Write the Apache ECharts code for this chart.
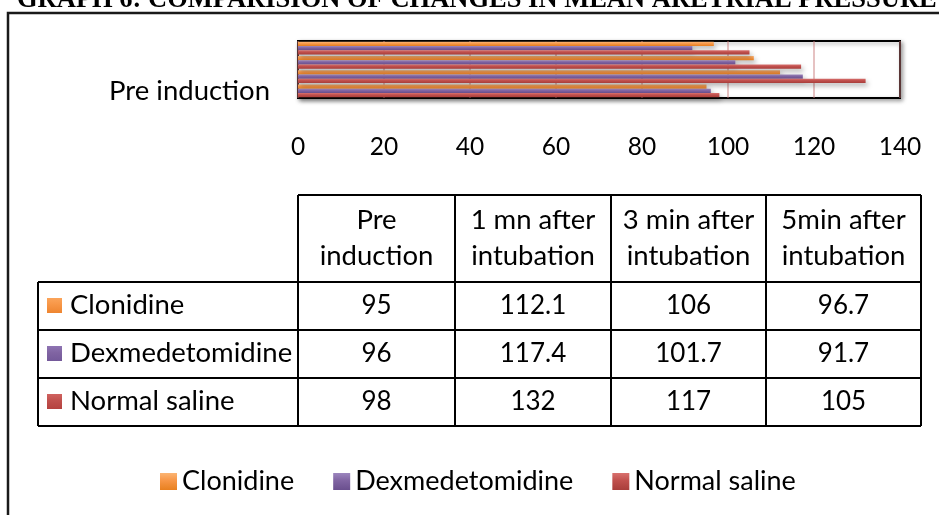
<!DOCTYPE html>
<html>
<head>
<meta charset="utf-8">
<script src="https://cdn.jsdelivr.net/npm/echarts@6/dist/echarts.min.js"></script>
<style>
html,body{margin:0;padding:0;background:#fff;}
#c{width:939px;height:515px;}
</style>
</head>
<body>
<div id="c"></div>
<script>
// ---- data ----
const titleText = 'GRAPH 6: COMPARISION OF CHANGES IN MEAN ARETRIAL PRESSURE';
const categories = ['Pre\ninduction', '1 mn after\nintubation', '3 min after\nintubation', '5min after\nintubation'];
const groups = ['Clonidine', 'Dexmedetomidine', 'Normal saline'];
const clonidine = [95, 112.1, 106, 96.7];
const dexmedetomidine = [96, 117.4, 101.7, 91.7];
const normalSaline = [98, 132, 117, 105];
const xMin = 0, xMax = 140, xInterval = 20;

const seriesValues = [clonidine, dexmedetomidine, normalSaline];

// ---- styles ----
const FONT = 'Lato';
const TXT = 27.5, NUM = 26;
function grad(a, b, c) {
  return new echarts.graphic.LinearGradient(0, 0, 0, 1, [
    {offset: 0, color: a}, {offset: 0.45, color: b}, {offset: 1, color: c}
  ]);
}
const fills = [
  grad('#FBB574', '#F79646', '#E8801F'),
  grad('#9C86BE', '#8064A2', '#6A4F8E'),
  grad('#D9716E', '#C0504D', '#A93E3B')
];
const keyFills = [
  grad('#FBA45A', '#F79646', '#EE8530'),
  grad('#8E74B3', '#8064A2', '#74599A'),
  grad('#D0625F', '#C0504D', '#B5423F')
];

// ---- table geometry ----
const colX = [298, 455, 611, 766, 921];
const labelX = 38;
const headTop = 195, headBot = 282;
const rowY = [282, 330, 378, 426];

const graphics = [];
function hline(x1, x2, y) {
  graphics.push({type: 'line', shape: {x1: x1, y1: y, x2: x2, y2: y}, style: {stroke: '#000', lineWidth: 2}, z: 10});
}
function vline(x, y1, y2) {
  graphics.push({type: 'line', shape: {x1: x, y1: y1, x2: x, y2: y2}, style: {stroke: '#000', lineWidth: 2}, z: 10});
}
// outer frame
graphics.push({type: 'polyline', shape: {points: [[8, 520], [8, 13], [945, 13]]}, style: {stroke: '#1a1a1a', lineWidth: 2.5, fill: null}, z: 10});
// title
graphics.push({type: 'text', left: 17, top: -13, style: {text: titleText, font: 'bold 26.5px "Liberation Serif"', fill: '#000'}, z: 10});

// table lines
hline(colX[0], colX[4], headTop);
hline(labelX, colX[4], headBot);
colX.forEach(x => vline(x, headTop, rowY[rowY.length - 1]));
for (let r = 1; r < rowY.length; r++) hline(labelX, colX[4], rowY[r]);
vline(labelX, rowY[0], rowY[rowY.length - 1]);

categories.forEach((cat, i) => {
  graphics.push({type: 'text', x: (colX[i] + colX[i + 1]) / 2, y: (headTop + headBot) / 2,
    style: {text: cat, font: TXT + 'px ' + FONT, fill: '#000', align: 'center', verticalAlign: 'middle', lineHeight: 36}, z: 11});
});
groups.forEach((g, r) => {
  const yMid = (rowY[r] + rowY[r + 1]) / 2;
  graphics.push({type: 'rect', shape: {x: 47, y: yMid - 8, width: 15, height: 15}, style: {fill: keyFills[r]}, z: 11});
  graphics.push({type: 'text', x: 70, y: yMid - 1, style: {text: g, font: TXT + 'px ' + FONT, fill: '#000', align: 'left', verticalAlign: 'middle'}, z: 11});
  seriesValues[r].forEach((v, i) => {
    graphics.push({type: 'text', x: (colX[i] + colX[i + 1]) / 2, y: yMid,
      style: {text: String(v), font: NUM + 'px ' + FONT, fill: '#000', align: 'center', verticalAlign: 'middle'}, z: 11});
  });
});

const chart = echarts.init(document.getElementById('c'), null, {renderer: 'canvas'});
chart.setOption({
  animation: false,
  backgroundColor: '#fff',
  grid: {
    left: 298, top: 41, width: 602, height: 57,
    show: true, borderColor: '#000', borderWidth: 2, backgroundColor: '#fff',
    shadowBlur: 4, shadowColor: 'rgba(0,0,0,0.35)', shadowOffsetX: 2, shadowOffsetY: 2
  },
  xAxis: {
    type: 'value', min: xMin, max: xMax, interval: xInterval,
    axisLine: {show: false}, axisTick: {show: false},
    axisLabel: {fontFamily: FONT, fontSize: 24.5, color: '#000', margin: 37},
    splitLine: {show: true, lineStyle: {color: 'rgba(200,120,120,0.45)', width: 2}}
  },
  yAxis: {
    type: 'category', data: categories,
    axisLine: {show: false}, axisTick: {show: false},
    axisLabel: {
      interval: function (i) { return i === 0; },
      formatter: function (v) { return v.replace('\n', ' '); },
      fontFamily: FONT, fontSize: TXT, color: '#000', margin: 28
    }
  },
  legend: {
    data: groups, left: 155, top: 463, icon: 'rect', itemWidth: 17, itemHeight: 17, itemGap: 39,
    textStyle: {fontFamily: FONT, fontSize: 27, color: '#000'}
  },
  graphic: graphics,
  series: groups.map((g, k) => ({
    name: g, type: 'bar', data: seriesValues[k],
    barGap: '0%', barCategoryGap: '12%',
    itemStyle: {color: fills[k], shadowBlur: 5, shadowColor: 'rgba(0,0,0,0.3)', shadowOffsetX: 2, shadowOffsetY: 3}
  }))
});
</script>
</body>
</html>
